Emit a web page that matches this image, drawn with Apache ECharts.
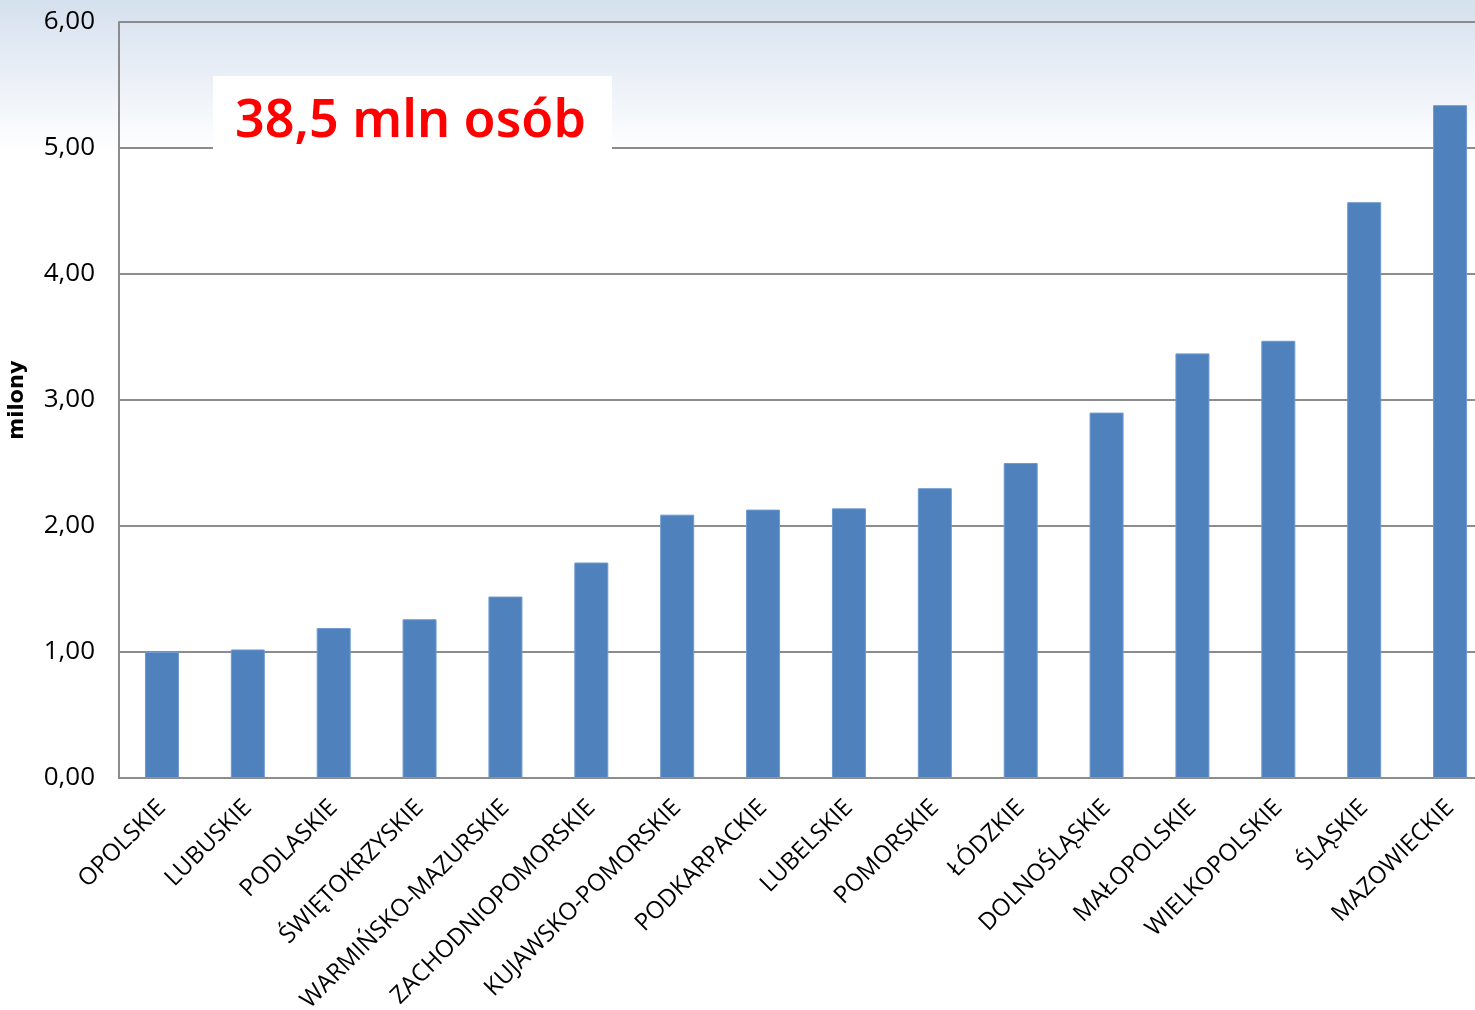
<!DOCTYPE html>
<html>
<head>
<meta charset="utf-8">
<script src="https://cdn.jsdelivr.net/npm/echarts@6/dist/echarts.min.js"></script>
<style>
html,body{margin:0;padding:0;background:#fff;}
#chart{width:1475px;height:1010px;}
</style>
</head>
<body>
<div id="chart"></div>
<script>
const categories = ['OPOLSKIE','LUBUSKIE','PODLASKIE','ŚWIĘTOKRZYSKIE','WARMIŃSKO-MAZURSKIE','ZACHODNIOPOMORSKIE','KUJAWSKO-POMORSKIE','PODKARPACKIE','LUBELSKIE','POMORSKIE','ŁÓDZKIE','DOLNOŚLĄSKIE','MAŁOPOLSKIE','WIELKOPOLSKIE','ŚLĄSKIE','MAZOWIECKIE'];
const population = [1.00,1.02,1.19,1.26,1.44,1.71,2.09,2.13,2.14,2.30,2.50,2.90,3.37,3.47,4.57,5.34];
const yTicks = {min:0, max:6, interval:1};
const yAxisName = 'milony';
const headline = '38,5 mln osób';

const chart = echarts.init(document.getElementById('chart'));
chart.setOption({
  animation:false,
  backgroundColor:'#ffffff',
  graphic:[
    {type:'rect', z:-10, silent:true, shape:{x:0,y:0,width:1475,height:1010},
     style:{fill:new echarts.graphic.LinearGradient(0,0,0,1,[{offset:0,color:'#d5e0ee'},{offset:0.15,color:'#ffffff'},{offset:1,color:'#ffffff'}])}},
    {type:'rect', z:50, silent:true, shape:{x:213,y:76,width:399,height:83}, style:{fill:'#ffffff'}},
    {type:'text', z:51, silent:true, left:235, top:96,
     style:{text:headline, fill:'#ff0000', font:'600 52px "Noto Sans"'}}
  ],
  grid:{left:119, top:22, width:1374, height:756, containLabel:false, outerBoundsMode:'none'},
  xAxis:{
    type:'category', data:categories,
    axisLine:{show:true, lineStyle:{color:'#8c8c8c', width:2}},
    axisTick:{show:false},
    axisLabel:{rotate:45, interval:0, margin:26, color:'#000', fontSize:24, fontFamily:'Open Sans'}
  },
  yAxis:{
    type:'value', min:yTicks.min, max:yTicks.max, interval:yTicks.interval,
    name:yAxisName, nameLocation:'middle', nameRotate:90, nameGap:91,
    nameTextStyle:{fontSize:21, fontWeight:'bold', color:'#000', fontFamily:'DejaVu Sans'},
    axisLine:{show:true, lineStyle:{color:'#8c8c8c', width:2}},
    axisTick:{show:false},
    splitLine:{show:true, lineStyle:{color:'#8c8c8c', width:2}},
    axisLabel:{margin:24, color:'#000', fontSize:26, fontFamily:'Open Sans',
      formatter:v=>v.toFixed(2).replace('.',',')}
  },
  series:[{
    type:'bar', data:population, barWidth:34,
    itemStyle:{color:'#4f81bd', borderColor:'#6e9ad0', borderWidth:1}
  }]
});
</script>
</body>
</html>
